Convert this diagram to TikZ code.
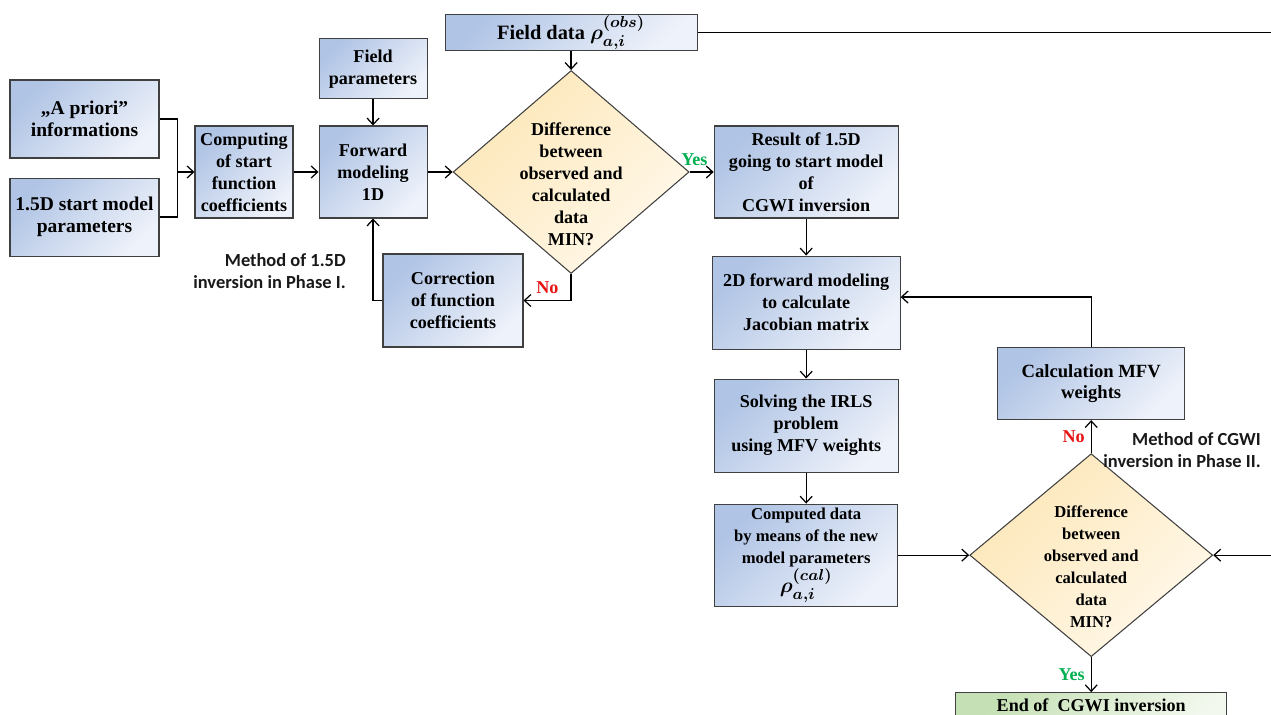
\documentclass[tikz,border=0pt]{standalone}
\usepackage{amsmath,amssymb,bm}
\usepackage{fontspec}
\setmainfont{Liberation Serif}
\newfontfamily\methodfont{Carlito}
\usetikzlibrary{shapes.geometric,arrows.meta,positioning,calc}
\usepackage{xcolor}

\definecolor{boxdark}{RGB}{176,196,229}
\definecolor{boxlight}{RGB}{238,242,250}
\definecolor{ydark}{RGB}{253,231,184}
\definecolor{ylight}{RGB}{255,248,234}
\definecolor{gdark}{RGB}{197,224,180}
\definecolor{glight}{RGB}{242,248,238}
\definecolor{yesgreen}{RGB}{0,176,80}
\definecolor{nored}{RGB}{230,20,20}
\newcommand{\blockfont}{\fontsize{10.3}{12.5}\selectfont\bfseries}
\newcommand{\bigblockfont}{\fontsize{11.1}{12.8}\selectfont\bfseries}
\newcommand{\smallblockfont}{\fontsize{9.45}{12.5}\selectfont\bfseries}
\newcommand{\rhoobs}[1]{{\boldmath\fontsize{12.5}{13}\selectfont$\rho_{a,i}^{(#1)}$}}

\begin{document}
\begin{tikzpicture}[
    block/.style={rectangle, draw=black!75, line width=0.6pt, left color=boxdark, right color=boxlight, shading angle=45, align=center, inner sep=0pt, font=\blockfont},
    decision/.style={diamond, draw=black!75, line width=0.6pt, left color=ydark, right color=ylight, shading angle=45, inner sep=0pt, minimum width=4.72cm, minimum height=4.06cm},
    dtext/.style={align=center, font=\blockfont, yshift=-0.24cm},
    endblock/.style={rectangle, draw=black!75, line width=0.6pt, left color=gdark, right color=glight, shading angle=45, align=center, inner sep=0pt, font=\blockfont},
    method/.style={align=right, inner sep=0pt, font=\methodfont\bfseries\fontsize{10.5}{12.5}\selectfont, text=black!90},
    yes/.style={font=\blockfont, text=yesgreen},
    no/.style={font=\blockfont, text=nored},
    arrow/.style={-{Straight Barb[length=1.3mm,width=2.4mm]}, line width=0.7pt},
    line/.style={line width=0.7pt}
]
\useasboundingbox (0,0) rectangle (25.42,-14.3);
\clip (0,0) rectangle (25.42,-14.3);

% Nodes - phase I
\node[block, font=\bigblockfont, minimum width=2.98cm, minimum height=1.56cm] (apriori) at (1.69,-2.38) {,,A priori''\\informations};
\node[block, font=\bigblockfont, minimum width=2.98cm, minimum height=1.56cm, below=0.38cm of apriori] (startmodel) {1.5D start model\\parameters};
\node[block, minimum width=1.96cm, minimum height=1.84cm] (computing) at (4.88,-3.44) {Computing\\of start\\function\\coefficients};
\node[block, minimum width=2.16cm, minimum height=1.84cm, right=0.5cm of computing] (forward) {Forward\\modeling\\1D};
\node[block, minimum width=2.16cm, minimum height=1.2cm, above=0.52cm of forward] (fieldpar) {Field\\parameters};
\node[decision, right=0.5cm of forward, label={[dtext]center:{Difference\\between\\observed and\\calculated\\data\\MIN?}}] (diff1) {};
\node[block, font=\fontsize{11.6}{13}\selectfont\bfseries, minimum width=5.04cm, minimum height=0.72cm, above=0.38cm of diff1] (fielddata) {Field data \rhoobs{obs}};
\node[block, minimum width=2.8cm, minimum height=1.86cm] (correction) at (9.06,-6.01) {Correction\\of function\\coefficients};
\node[method, anchor=east] (phase1) at (6.92,-5.42) {Method of 1.5D\\inversion in Phase I.};

% Nodes - phase II
\node[block, minimum width=3.68cm, minimum height=1.84cm, right=0.48cm of diff1] (result) {Result of 1.5D\\going to start model\\of\\CGWI inversion};
\node[block, minimum width=3.76cm, minimum height=1.86cm, below=0.74cm of result] (jacobian) {2D forward modeling\\to calculate\\Jacobian matrix};
\node[block, minimum width=3.68cm, minimum height=1.86cm, below=0.58cm of jacobian] (irls) {Solving the IRLS\\problem\\using MFV weights};
\node[block, font=\smallblockfont, minimum width=3.66cm, minimum height=2.04cm, below=0.62cm of irls] (computed) {Computed data\\by means of the new\\model parameters\\\rhoobs{cal}};
\node[decision, minimum width=4.86cm, right=1.42cm of computed, label={[dtext, font=\smallblockfont]center:{Difference\\between\\observed and\\calculated\\data\\MIN?}}] (diff2) {};
\node[block, font=\fontsize{10.6}{12.5}\selectfont\bfseries, minimum width=3.74cm, minimum height=1.44cm, above=0.66cm of diff2] (mfv) {Calculation MFV\\weights};
\node[endblock, minimum width=5.42cm, minimum height=0.8cm, below=0.7cm of diff2, text depth=0.3cm] (finish) {End of\ \ CGWI inversion};
\node[method, anchor=east] (phase2) at (25.22,-9.01) {Method of CGWI\\inversion in Phase II.};
\coordinate (redge) at (25.42,0);
\coordinate[right=0.36cm of apriori.east] (brk);

% Arrows
\draw[line] (apriori.east) -- (brk) |- (startmodel.east);
\draw[arrow] (brk |- computing.west) -- (computing.west);
\draw[arrow] (computing) -- (forward);
\draw[arrow] (fieldpar) -- (forward);
\draw[arrow] (forward) -- (diff1);
\draw[arrow] (fielddata) -- (diff1);
\draw[line] (fielddata.east) -- (fielddata.east -| redge);
\draw[arrow] (diff1) -- node[yes, above, pos=0.2] {Yes} (result);
\draw[arrow] (diff1.south) |- node[no, above, pos=0.75] {No} (correction.east);
\draw[arrow] (correction.west) -| (forward.south);

\draw[arrow] (result) -- (jacobian);
\draw[arrow] (jacobian) -- (irls);
\draw[arrow] (irls) -- (computed);
\draw[arrow] (computed) -- (diff2);
\draw[arrow] (diff2.east -| redge) -- (diff2.east);
\draw[arrow] (diff2) -- node[no, left] {No} (mfv);
\draw[arrow] (mfv.north) |- ([yshift=0.11cm]jacobian.east);
\draw[arrow] (diff2) -- node[yes, left] {Yes} (finish);

\end{tikzpicture}
\end{document}
